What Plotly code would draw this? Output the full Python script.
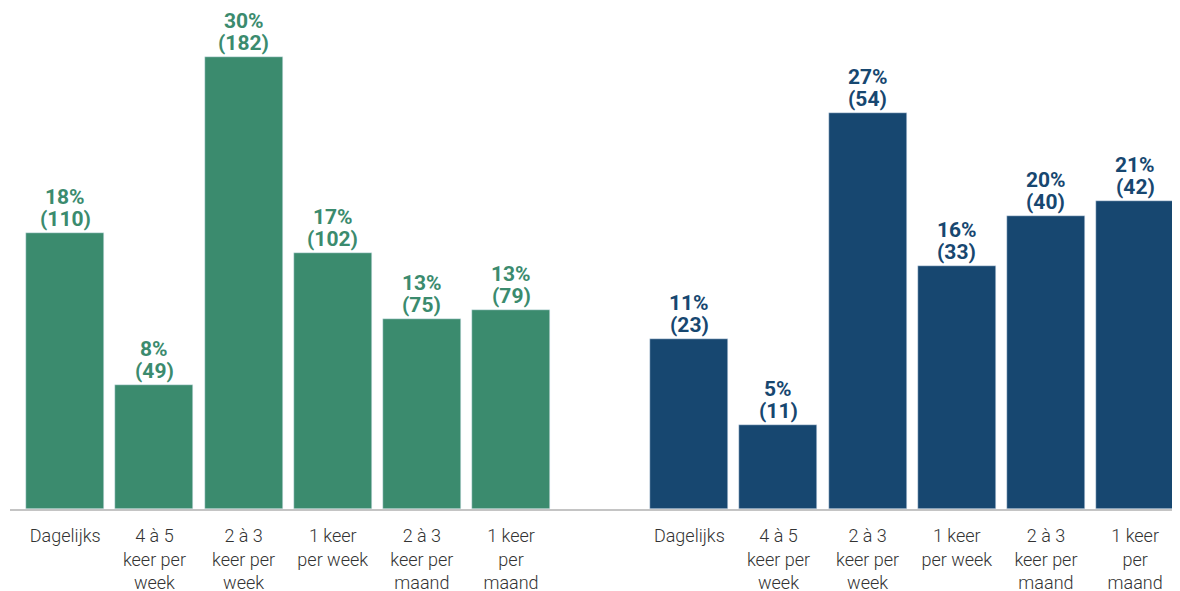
import plotly.graph_objects as go

categories = [
    "Dagelijks",
    "4 à 5<br>keer per<br>week",
    "2 à 3<br>keer per<br>week",
    "1 keer<br>per week",
    "2 à 3<br>keer per<br>maand",
    "1 keer<br>per<br>maand",
]

green_heights = [18.6, 8.4, 30.5, 17.3, 12.8, 13.4]
green_pct = [18, 8, 30, 17, 13, 13]
green_counts = [110, 49, 182, 102, 75, 79]

blue_heights = [11.5, 5.7, 26.7, 16.4, 19.8, 20.8]
blue_pct = [11, 5, 27, 16, 20, 21]
blue_counts = [23, 11, 54, 33, 40, 42]

GREEN = "#3b8b6e"
BLUE = "#174770"

n = len(categories)
x_green = list(range(n))
x_blue = [i + n + 1 for i in range(n)]

fig = go.Figure()
fig.add_trace(go.Bar(x=x_green, y=green_heights, marker_color=GREEN, width=0.875,
                     hoverinfo="skip", showlegend=False))
fig.add_trace(go.Bar(x=x_blue, y=blue_heights, marker_color=BLUE, width=0.875,
                     hoverinfo="skip", showlegend=False))

annotations = []
for xs, hs, ps, cs, col in [(x_green, green_heights, green_pct, green_counts, GREEN),
                            (x_blue, blue_heights, blue_pct, blue_counts, BLUE)]:
    for x, h, p, c in zip(xs, hs, ps, cs):
        annotations.append(dict(x=x, y=h, text=f"({c})", showarrow=False,
                                yanchor="bottom", yshift=0,
                                font=dict(family="Roboto", size=21, color=col, weight="bold")))
        annotations.append(dict(x=x, y=h, text=f"{p}%", showarrow=False,
                                yanchor="bottom", yshift=22,
                                font=dict(family="Roboto", size=21, color=col, weight="bold")))

fig.update_layout(
    width=1180, height=591,
    margin=dict(l=2, r=11, t=2, b=90),
    paper_bgcolor="white", plot_bgcolor="white",
    annotations=annotations,
    bargap=0,
    xaxis=dict(range=[-0.62, 12.47], tickvals=x_green + x_blue, ticktext=categories + categories,
               showline=True, linecolor="#c4c4c4", linewidth=1.5, showgrid=False, zeroline=False,
               ticks="", ticklabelstandoff=10,
               tickfont=dict(family="Roboto", size=18, color="#333333", weight=300)),
    yaxis=dict(range=[0, 33.67], visible=False, showgrid=False, zeroline=False),
)

fig.write_html("out.html")
